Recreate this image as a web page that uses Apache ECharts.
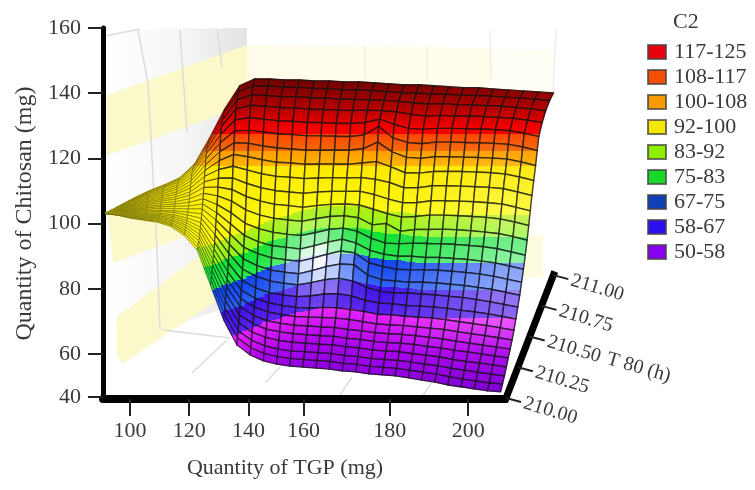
<!DOCTYPE html>
<html><head><meta charset="utf-8">
<style>html,body{margin:0;padding:0;background:#fff}#c{width:755px;height:490px}</style>
<script src="https://cdn.jsdelivr.net/npm/echarts@6/dist/echarts.min.js"></script>
</head><body><div id="c"></div>
<script>
// ---------- data ----------
const tgpGrid = [92.6,96.5,100.4,104.3,108.2,112.1,116,119.9,123.8,127.7,131.6,135.5,139.4,143.3,147.2,151.1,155,158.9,162.8,166.7,170.6,174.5,178.4,182.3,186.2,190.1,194,197.9,201.8,205.7,209.6];
const t80Grid = [210,210.036,210.072,210.108,210.144,210.18,210.216,210.252,210.288,210.324,210.36,210.395,210.43,210.465,210.5,210.53,210.56,210.59,210.625,210.66,210.69,210.72,210.785,210.85,210.925,211];
const surfaceByTGP = [
[103.1,103.1,103.1,103.1,103.1,103.1,103.1,103.1,103.1,103.1,103.1,103.1,103.1,103.1,103.1,103.1,103.1,103.1,103.1,103.1,103.1,103.1,103.1,103.1,103.1,103.1],
[102.5,102.6,102.7,102.8,102.9,102.9,103.0,103.1,103.3,103.4,103.5,103.6,103.8,103.9,104.1,104.2,104.4,104.5,104.7,104.8,105.0,105.1,105.3,105.4,105.5,105.6],
[101.6,101.8,101.9,102.1,102.3,102.5,102.7,102.9,103.2,103.4,103.7,103.9,104.2,104.5,104.8,105.2,105.5,105.8,106.1,106.4,106.8,107.1,107.4,107.6,107.8,108.0],
[101.0,101.2,101.5,101.8,102.0,102.3,102.6,102.9,103.2,103.6,104.0,104.4,104.8,105.2,105.7,106.1,106.6,107.0,107.5,108.0,108.4,108.9,109.3,109.6,110.0,110.2],
[100.4,100.7,101.0,101.4,101.7,102.1,102.4,102.8,103.2,103.7,104.1,104.7,105.2,105.7,106.3,106.9,107.4,108.0,108.6,109.2,109.8,110.3,110.9,111.3,111.7,112.0],
[99.1,99.5,99.9,100.3,100.8,101.2,101.7,102.2,102.7,103.4,103.9,104.6,105.3,106.0,106.7,107.5,108.2,109.0,109.7,110.5,111.2,111.9,112.6,113.2,113.7,114.1],
[96.4,97.0,97.6,98.2,98.9,99.5,100.2,100.9,101.7,102.6,103.5,104.5,105.4,106.5,107.6,108.7,109.7,110.9,112.0,113.1,114.2,115.2,116.2,117.1,117.8,118.4],
[91.8,92.7,93.6,94.7,95.7,96.7,97.8,98.9,100.2,101.6,103.0,104.5,106.0,107.6,109.3,111.1,112.8,114.5,116.3,118.0,119.7,121.4,123.0,124.3,125.5,126.4],
[81.1,82.5,84.0,85.6,87.2,88.8,90.5,92.2,94.2,96.5,98.6,101.0,103.3,105.8,108.5,111.2,113.9,116.6,119.3,122.1,124.8,127.3,129.8,131.9,133.8,135.2],
[70.4,72.3,74.2,76.4,78.5,80.7,82.9,85.2,87.9,90.8,93.6,96.8,99.9,103.3,106.9,110.4,114.0,117.6,121.2,124.8,128.4,131.8,135.2,138.0,140.4,142.3],
[62.8,64.9,67.1,69.6,72.0,74.5,77.0,79.6,82.6,86.0,89.2,92.7,96.3,100.1,104.2,108.3,112.3,116.4,120.5,124.6,128.6,132.5,136.3,139.5,142.3,144.4],
[59.7,61.9,64.2,66.7,69.3,71.8,74.4,77.1,80.3,83.8,87.1,90.8,94.4,98.4,102.6,106.9,111.0,115.3,119.6,123.8,128.1,132.0,136.0,139.3,142.2,144.4],
[57.9,60.1,62.5,65.1,67.6,70.2,72.9,75.7,78.8,82.4,85.7,89.5,93.2,97.3,101.6,105.9,110.1,114.5,118.8,123.2,127.5,131.5,135.6,138.9,141.9,144.1],
[56.9,59.2,61.5,64.1,66.8,69.4,72.1,74.9,78.1,81.7,85.1,88.9,92.7,96.7,101.1,105.5,109.7,114.2,118.6,122.9,127.3,131.4,135.5,138.9,141.8,144.1],
[56.3,58.6,60.9,63.6,66.2,68.8,71.5,74.3,77.6,81.2,84.6,88.4,92.2,96.3,100.7,105.0,109.3,113.8,118.2,122.5,126.9,131.0,135.1,138.6,141.5,143.8],
[56.0,58.3,60.7,63.3,65.9,68.6,71.3,74.1,77.8,81.9,85.6,89.4,93.2,97.2,101.5,105.5,109.7,114.0,118.3,122.5,126.9,131.0,135.0,138.5,141.4,143.8],
[55.7,58.0,60.4,63.0,65.6,68.3,71.2,74.3,78.4,82.8,86.8,90.6,94.3,98.2,102.2,105.9,109.9,114.1,118.3,122.6,126.8,130.8,134.8,138.2,141.1,143.5],
[55.4,57.7,60.1,62.8,65.4,68.1,71.0,74.2,78.5,83.2,87.6,91.6,95.2,98.6,102.4,106.0,109.9,114.0,118.2,122.5,126.7,130.7,134.7,138.1,141.0,143.5],
[54.8,57.1,59.5,62.2,64.8,67.5,70.6,73.6,77.8,82.4,87.4,91.0,94.0,97.6,101.8,105.7,109.9,114.1,118.6,123.0,127.2,131.0,134.8,138.0,140.8,143.2],
[54.5,56.8,59.2,61.8,64.4,67.1,69.9,73.0,76.5,80.4,84.2,88.0,91.8,95.5,99.6,104.4,108.9,113.6,119.0,125.0,129.8,132.0,134.6,137.8,140.5,142.9],
[53.9,56.2,58.6,61.2,63.8,66.5,69.2,72.2,75.6,79.2,82.8,86.8,90.6,94.0,100.0,103.0,107.5,112.6,117.4,122.0,126.2,130.4,134.3,137.5,140.2,142.6],
[53.6,55.9,58.3,60.9,63.5,66.2,68.9,72.0,75.4,78.7,82.4,86.0,90.0,93.8,97.6,102.0,106.4,111.0,115.6,120.3,124.9,129.2,133.5,137.0,140.0,142.6],
[53.3,55.6,58.0,60.7,63.3,66.0,68.7,71.6,74.9,78.7,82.0,85.8,90.0,94.0,98.2,102.2,106.4,111.0,115.5,120.0,124.5,128.9,133.0,136.7,139.8,142.3],
[52.7,55.0,57.5,60.1,62.9,65.6,68.3,71.3,74.7,78.4,82.0,85.8,89.6,93.9,98.2,102.6,107.0,111.6,116.0,120.5,125.0,129.2,133.2,136.8,139.7,142.0],
[52.0,54.4,56.9,59.6,62.3,65.1,67.9,71.0,74.4,78.1,81.8,85.7,89.6,93.8,98.3,102.6,107.0,111.6,116.0,120.5,125.0,129.2,133.0,136.5,139.4,141.7],
[51.4,53.8,56.4,59.1,61.8,64.6,67.5,70.5,74.0,77.7,81.4,85.4,89.3,93.6,98.1,102.4,106.9,111.5,116.0,120.4,124.9,129.1,133.0,136.4,139.3,141.7],
[50.5,53.0,55.6,58.3,61.1,63.9,66.8,69.9,73.4,77.3,81.0,85.0,89.0,93.3,97.8,102.2,106.7,111.3,115.8,120.3,124.8,129.0,132.8,136.2,139.1,141.3],
[49.9,52.3,55.0,57.7,60.6,63.3,66.2,69.3,72.9,76.7,80.4,84.5,88.5,92.9,97.4,101.9,106.4,111.1,115.6,120.1,124.6,128.8,132.6,136.0,138.8,141.0],
[49.3,51.7,54.4,57.2,60.0,62.7,65.6,68.7,72.3,76.0,79.8,83.8,87.9,92.3,96.9,101.4,106.0,110.7,115.2,119.8,124.3,128.5,132.3,135.6,138.5,140.7],
[48.7,51.1,53.8,56.6,59.4,62.1,65.0,68.0,71.5,75.2,78.9,82.9,87.0,91.3,96.0,100.5,105.0,109.7,114.3,118.9,123.5,127.7,131.7,135.2,138.2,140.4],
[48.4,50.8,53.3,56.0,58.8,61.5,64.3,67.3,70.7,74.4,78.0,82.0,86.0,90.3,94.9,99.4,103.9,108.6,113.2,117.8,122.4,126.7,131.0,134.6,137.7,140.1]
];
// how far the lower colour bands sag below their usual height, column by column
const bandSagByTGP = [10,10,10,10,10,10,10,10,8.5,6.5,5,3,1,0,-1.5,-2.5,-3,-3,-3,-2,-1,-1,-0.5,0,0,0,0,0,0,0,0];
const legendNames = ['117-125','108-117','100-108','92-100','83-92','75-83','67-75','58-67','50-58'];
const legendColors = ['#e8000f','#f24f00','#f59b00','#f5e800','#8cf000','#18d828','#1040b8','#2c10f0','#8800f0'];
const xTickLabels = [100,120,140,160,180,200];
const yTickLabels = [40,60,80,100,120,140,160];
const tTicks = [210,210.25,210.5,210.75,211];
// surface tones: height on the vertical axis -> colour (pairs at one height are hard band edges)
const toneHeights = [144.4,135,129,127.6,127.6,122.4,122.4,117.8,117.8,102.5,102.5,95.8,95.8,87.8,87.8,79.6,79.6,71,71,60,48];
const toneColors  = ['#6e0000','#b80000','#fa0000','#f00000','#ff4400','#f26a08','#ff9c00','#ffb400','#ffe800','#fbf90c','#b4ee14','#8af81c','#0ce030','#24e84c','#0c40f0','#2c60f8','#3a10ea','#5a20ee','#e820ff','#a800ee','#7c00d4'];

// ---------- layout and projection ----------
const xPlaced = {100:100,120:117.5,140:135,160:151.3,180:176.8,200:200};
const yPlaced = v => v === 40 ? 46.8 : v;
const xTip = 92.6, skew = 0.134;
const tAxisBase = [211.2, 46.5], tAxisRun = [14, 37.7];
const font = '"Liberation Serif","Times New Roman",serif';
const ink = '#3a3a3a';

const project = (api, x, t, v) => api.coord([x + (t - 210) * skew * (x - xTip), v]);

const cells = [];
for (let j = t80Grid.length - 2; j >= 0; j--) {
  for (let k = 0; k < tgpGrid.length - 1; k++) {
    cells.push([tgpGrid[k], surfaceByTGP[k][j], k, j]);
  }
}
const toneCache = {};
function toneFill(api, sag) {
  const key = (Math.round(sag * 4) / 4).toFixed(2);
  if (toneCache[key]) return toneCache[key];
  const s = +key;
  const y0 = api.coord([100, 146])[1], y1 = api.coord([100, 30])[1];
  const stops = toneHeights.map((h, i) => ({
    offset: (api.coord([100, h <= 103 ? h - s : h])[1] - y0) / (y1 - y0), color: toneColors[i]
  }));
  return (toneCache[key] = new echarts.graphic.LinearGradient(0, y0, 0, y1, stops, true));
}
const mix = (a, b, u) => [a[0] + (b[0] - a[0]) * u, a[1] + (b[1] - a[1]) * u];
function renderCell(params, api) {
  const k = api.value(2), j = api.value(3);
  const pts = [[k, j], [k + 1, j], [k + 1, j + 1], [k, j + 1]]
    .map(([a, b]) => project(api, tgpGrid[a], t80Grid[b], surfaceByTGP[a][b]));
  const cx = (pts[0][0] + pts[2][0]) / 2, cy = (pts[0][1] + pts[2][1]) / 2;
  const glow = 1.0 * Math.exp(-(((cx - 318) / 32) ** 2 + ((cy - 260) / 30) ** 2));
  const rightSide = Math.max(0, Math.min(1, (cx - 385) / 120));
  const yWindow = Math.exp(-(((cy - 275) / 55) ** 2));
  const sheen = 0.5 * rightSide * yWindow + 0.12 * Math.exp(-(((cy - 200) / 45) ** 2)) * rightSide;
  const white = Math.min(0.97, glow + sheen);
  const black = cx < 195 ? 0.14 * (195 - cx) / 90 : 0;
  const cellHeight = Math.abs(pts[3][1] - pts[0][1]);
  const children = [];
  const sa = bandSagByTGP[k], sb = bandSagByTGP[k + 1];
  const slices = (sa === sb || pts[2][1] < 170) ? 1 : 3;
  for (let s = 0; s < slices; s++) {
    const u0 = s / slices, u1 = (s + 1) / slices;
    const piece = [mix(pts[0], pts[1], u0), mix(pts[0], pts[1], u1), mix(pts[3], pts[2], u1), mix(pts[3], pts[2], u0)];
    const f = toneFill(api, sa + (sb - sa) * (u0 + u1) / 2);
    children.push({ type: 'polygon', shape: { points: piece }, style: { fill: f, stroke: f, lineWidth: 0.7 } });
  }
  if (white > 0.01) children.push({ type: 'polygon', shape: { points: pts }, style: { fill: 'rgba(255,255,255,' + white.toFixed(3) + ')' } });
  if (black > 0.01) children.push({ type: 'polygon', shape: { points: pts }, style: { fill: 'rgba(60,40,0,' + black.toFixed(3) + ')' } });
  children.push({ type: 'polygon', shape: { points: pts }, style: { fill: null, stroke: 'rgba(20,20,20,0.8)', lineWidth: Math.max(0.5, Math.min(1.4, cellHeight / 6)) } });
  return { type: 'group', children };
}
function tPoint(api, t) {
  const f = t - 210;
  return api.coord([tAxisBase[0] + f * tAxisRun[0], tAxisBase[1] + f * tAxisRun[1]]);
}
function renderTAxis(params, api) {
  const t = api.value(0);
  const p = tPoint(api, t);
  return { type: 'group', children: [
    { type: 'line', shape: { x1: p[0], y1: p[1], x2: p[0] + 15, y2: p[1] + 4 }, style: { stroke: '#222', lineWidth: 2 } },
    { type: 'text', x: p[0] + 18, y: p[1] + 5, rotation: -0.29, style: { text: t.toFixed(2), font: '20px ' + font, fill: ink, verticalAlign: 'middle' } }
  ]};
}
function renderTLine(params, api) {
  const a = tPoint(api, 209.97), b = tPoint(api, 211.03);
  return { type: 'line', shape: { x1: a[0], y1: a[1], x2: b[0], y2: b[1] }, style: { stroke: '#000', lineWidth: 7 } };
}
const band = '#fbf9c9';
const wallLine = { stroke: '#dcdcdc', lineWidth: 1.5 };
const paleLine = { stroke: '#eeeeea', lineWidth: 1.5 };
const chart = echarts.init(document.getElementById('c'), null, { renderer: 'canvas' });
chart.setOption({
  animation: false,
  backgroundColor: '#fff',
  title: { text: 'C2', left: 673, top: 11, padding: 0, textStyle: { fontFamily: font, fontSize: 22, fontWeight: 'normal', color: ink } },
  legend: {
    orient: 'vertical', left: 647, top: 41, padding: 0, itemWidth: 18, itemHeight: 14, itemGap: 3,
    selectedMode: false, icon: 'rect', data: legendNames,
    textStyle: { fontFamily: font, fontSize: 22, lineHeight: 22, color: ink, padding: [0, 0, 0, 3] }
  },
  grid: { left: 103, right: 250, top: 28, bottom: 91, outerBoundsMode: 'none' },
  xAxis: {
    type: 'value', min: 92, max: 210.9, splitLine: { show: false },
    axisLine: { onZero: false, lineStyle: { color: '#000', width: 8 } },
    axisTick: { customValues: xTickLabels.map(v => xPlaced[v]), length: 17, lineStyle: { color: '#222', width: 2 } },
    axisLabel: { customValues: xTickLabels.map(v => xPlaced[v]), margin: 21, fontFamily: font, fontSize: 22, color: ink,
      formatter: v => String(xTickLabels.find(l => xPlaced[l] === v)) },
    name: 'Quantity of TGP (mg)', nameLocation: 'middle', nameGap: 58,
    nameTextStyle: { fontFamily: font, fontSize: 22, color: ink, padding: [0, 38, 0, 0] }
  },
  yAxis: {
    type: 'value', min: 46.2, max: 160, splitLine: { show: false },
    axisLine: { onZero: false, lineStyle: { color: '#000', width: 5 } },
    axisTick: { customValues: yTickLabels.map(yPlaced), length: 15, lineStyle: { color: '#222', width: 2 } },
    axisLabel: { customValues: yTickLabels.map(yPlaced), margin: 22, fontFamily: font, fontSize: 22, color: ink,
      formatter: v => String(yTickLabels.find(l => yPlaced(l) === v)) },
    name: 'Quantity of Chitosan (mg)', nameLocation: 'middle', nameGap: 64,
    nameTextStyle: { fontFamily: font, fontSize: 24, color: ink }
  },
  graphic: { elements: [
    { type: 'polygon', silent: true, shape: { points: [[105,36],[140,29],[247,28],[247,300],[163,330],[117,352]] },
      style: { fill: new echarts.graphic.LinearGradient(0,0,1,0,[{offset:0,color:'#ffffff'},{offset:0.55,color:'#f6f6f6'},{offset:1,color:'#e2e2e2'}]) } },
    { type: 'polygon', silent: true, shape: { points: [[247,45],[490,48],[490,200],[247,200]] }, style: { fill: '#fffde9' } },
    { type: 'polygon', silent: true, shape: { points: [[490,48],[555,50],[555,100],[490,100]] }, style: { fill: '#fffff6' } },
    { type: 'polygon', silent: true, shape: { points: [[518,235],[543,235],[543,277],[518,277]] }, style: { fill: '#fdfce0' } },
    { type: 'polygon', silent: true, shape: { points: [[105,96],[247,45],[247,105],[105,156]] }, style: { fill: band } },
    { type: 'polygon', silent: true, shape: { points: [[108,216],[230,170],[230,220],[113,263]] }, style: { fill: band } },
    { type: 'polygon', silent: true, shape: { points: [[117,317],[240,225],[240,285],[122,364],[117,355]] }, style: { fill: band } },
    { type: 'polyline', silent: true, shape: { points: [[105,36],[140,29]] }, style: wallLine },
    { type: 'polyline', silent: true, shape: { points: [[138,30],[148,83],[157,250],[160,330]] }, style: wallLine },
    { type: 'polyline', silent: true, shape: { points: [[180,30],[187,133]] }, style: wallLine },
    { type: 'polyline', silent: true, shape: { points: [[217,30],[222,67]] }, style: wallLine },
    { type: 'polyline', silent: true, shape: { points: [[163,330],[230,338]] }, style: wallLine },
    { type: 'polyline', silent: true, shape: { points: [[192,373],[227,340]] }, style: wallLine },
    { type: 'polyline', silent: true, shape: { points: [[265,383],[280,367]] }, style: wallLine },
    { type: 'polyline', silent: true, shape: { points: [[340,395],[352,377]] }, style: wallLine },
    { type: 'polyline', silent: true, shape: { points: [[422,397],[433,380]] }, style: wallLine },
    { type: 'polyline', silent: true, shape: { points: [[490,30],[491,80]] }, style: paleLine },
    { type: 'polyline', silent: true, shape: { points: [[556,30],[553,95]] }, style: paleLine },
    { type: 'polyline', silent: true, shape: { points: [[365,46],[365,78]] }, style: paleLine },
    { type: 'polyline', silent: true, shape: { points: [[427,46],[427,80]] }, style: paleLine },
    { type: 'text', silent: true, x: 610, y: 349, rotation: -0.28, style: { text: 'T 80 (h)', font: '20px ' + font, fill: ink } }
  ]},
  series: [
    { type: 'custom', name: 'surface', z: 3, clip: false, silent: true, data: cells, encode: { x: 0, y: 1 }, renderItem: renderCell, progressive: 0, animation: false },
    { type: 'custom', name: 'T axis line', z: 4, clip: false, silent: true, data: [[210]], encode: { x: 0 }, renderItem: renderTLine },
    { type: 'custom', name: 'T axis ticks', z: 4, clip: false, silent: true, data: tTicks.map(t => [t]), encode: { x: 0 }, renderItem: renderTAxis }
  ].concat(legendNames.map((n, i) => ({
    type: 'scatter', name: n, data: [], itemStyle: { opacity: 1, color: legendColors[i], borderColor: 'rgba(70,70,70,0.75)', borderWidth: 2 }
  })))
});
</script></body></html>
